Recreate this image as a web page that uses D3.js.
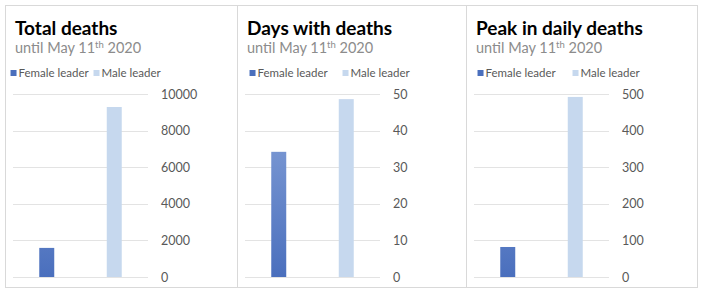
<!DOCTYPE html>
<html>
<head>
<meta charset="utf-8">
<script src="https://cdn.jsdelivr.net/npm/d3@7"></script>
<style>
  body { margin: 0; background: #fff; }
  text { font-family: Lato, "Open Sans", sans-serif; }
</style>
</head>
<body>
<svg id="chart" width="702" height="293"></svg>
<script>
// data
const categories = ["Female leader", "Male leader"];
const titles = ["Total deaths", "Days with deaths", "Peak in daily deaths"];
const totalDeaths = [1590, 9290];
const daysWithDeaths = [34.2, 48.6];
const peakDaily = [82, 492];
const axisMax = [10000, 50, 500];
const tickValues = [
  [0, 2000, 4000, 6000, 8000, 10000],
  [0, 10, 20, 30, 40, 50],
  [0, 100, 200, 300, 400, 500]
];
const seriesValues = [totalDeaths, daysWithDeaths, peakDaily];

const svg = d3.select("#chart");
const colors = { "Female leader": "url(#femaleGrad)", "Male leader": "#c6d8ee" };

const panelLeft = [5, 237, 466];
const panelRight = [237, 466, 697];
const legendGap = [4, 14, 16];
const boxTop = 5, boxBottom = 287;
const y0 = 277, y1 = 94;

const defs = svg.append("defs");
const grad = defs.append("linearGradient")
  .attr("id", "femaleGrad")
  .attr("gradientUnits", "userSpaceOnUse")
  .attr("x1", 0).attr("y1", y0).attr("x2", 0).attr("y2", y1);
grad.append("stop").attr("offset", "0%").attr("stop-color", "#4a6fbd");
grad.append("stop").attr("offset", "100%").attr("stop-color", "#8aa5da");

// outer borders
titles.forEach((t, i) => {
  svg.append("rect")
    .attr("x", panelLeft[i] + 0.5).attr("y", boxTop + 0.5)
    .attr("width", panelRight[i] - panelLeft[i]).attr("height", boxBottom - boxTop)
    .attr("fill", "none").attr("stroke", "#d9d9d9");
});

titles.forEach((t, i) => {
  const L = panelLeft[i];
  const g = svg.append("g");

  g.append("text")
    .attr("x", L + 10).attr("y", 35)
    .attr("font-size", 19).attr("font-weight", "bold").attr("fill", "#000")
    .text(t);

  const sub = g.append("text")
    .attr("x", L + 10).attr("y", 53)
    .attr("font-size", 14.5).attr("fill", "#8c8c8c");
  sub.append("tspan").text("until May 11");
  sub.append("tspan").attr("dy", -5).attr("font-size", 9.5).text("th");
  sub.append("tspan").attr("dy", 5).text(" 2020");

  const x = d3.scaleBand()
    .domain(categories)
    .range([L + 8, L + 143])
    .paddingInner(0.778)
    .paddingOuter(0.389);

  const y = d3.scaleLinear()
    .domain([0, axisMax[i]])
    .range([y0, y1]);

  // gridlines
  g.append("g").selectAll("line")
    .data(tickValues[i])
    .join("line")
    .attr("x1", L + 8).attr("x2", L + 143)
    .attr("y1", d => Math.round(y(d)) + 0.5).attr("y2", d => Math.round(y(d)) + 0.5)
    .attr("stroke", "#e3e3e3");

  // bars
  g.append("g").selectAll("rect")
    .data(categories.map((c, k) => ({ c, v: seriesValues[i][k] })))
    .join("rect")
    .attr("x", d => x(d.c))
    .attr("width", x.bandwidth())
    .attr("y", d => y(d.v))
    .attr("height", d => y(0) - y(d.v))
    .attr("fill", d => colors[d.c]);

  // axis on the right
  const ax = g.append("g")
    .attr("transform", `translate(${L + 156},0)`)
    .call(d3.axisRight(y).tickValues(tickValues[i]).tickSize(0).tickPadding(0).tickFormat(d3.format("d")));
  ax.select(".domain").remove();
  ax.selectAll("text")
    .attr("font-family", "Lato, 'Open Sans', sans-serif")
    .attr("font-size", 12.5).attr("fill", "#595959");

  // legend
  const lg = g.append("g");
  let lx = 0;
  const items = [];
  categories.forEach((c, k) => {
    const it = lg.append("g");
    it.append("rect").attr("x", 0).attr("y", 70).attr("width", 6).attr("height", 6)
      .attr("fill", k === 0 ? "#4a6fbd" : colors[c]);
    it.append("text").attr("x", 8).attr("y", 77)
      .attr("font-size", 11.5).attr("fill", "#595959").text(c);
    items.push(it);
  });
  items.forEach(it => {
    const w = it.node().getBBox().width;
    it.attr("transform", `translate(${lx},0)`);
    lx += w + legendGap[i];
  });
  const total = lx - legendGap[i];
  const center = i === 0 ? L + 81 : L + 93;
  lg.attr("transform", `translate(${center - total / 2},0)`);
});
</script>
</body>
</html>
